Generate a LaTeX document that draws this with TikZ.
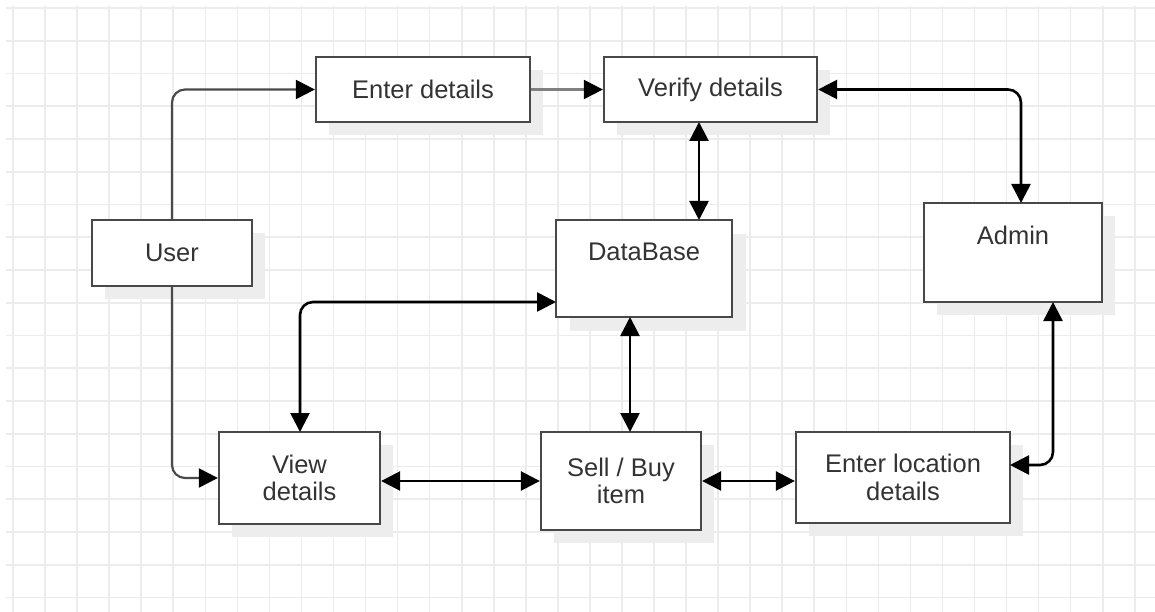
\documentclass[tikz,border=0pt]{standalone}
\usepackage{fontspec}
\setmainfont{Liberation Sans}
\usetikzlibrary{arrows.meta}
\definecolor{gridcol}{HTML}{ECECEC}
\definecolor{shadowcol}{HTML}{EDEDED}
\definecolor{boxline}{HTML}{484848}
\definecolor{textcol}{HTML}{333333}
\definecolor{thinline}{HTML}{4A4A4A}
\definecolor{paleline}{HTML}{808080}
\tikzset{
  gridline/.style={draw=gridcol, line width=1.6pt},
  box/.style={draw=boxline, fill=white, line width=2.3pt, rectangle,
    inner sep=0pt, text=textcol, align=center,
    font=\fontsize{25.5}{27.5}\selectfont},
  boxshadow/.style={fill=shadowcol, draw=none},
  txt/.style={text=textcol, inner sep=0pt,
    font=\fontsize{25.5}{27.5}\selectfont},
  flow/.style={draw=thinline, line width=2.2pt,
    arrows={-{Triangle[length=19pt, width=19pt, color=black]}}},
  paleflow/.style={draw=paleline, line width=2.2pt,
    arrows={-{Triangle[length=19pt, width=19pt, color=black]}}},
  link/.style={draw=black, line width=2.6pt,
    {Triangle[length=19pt, width=19pt]}-{Triangle[length=19pt, width=19pt]}},
}
\newcommand{\boxat}[7]{%
  % #1 name, #2 left, #3 top, #4 right, #5 bottom, #6 text, #7 shadow offset
  \fill[boxshadow] ({#2+#7},{#3+#7}) rectangle ({#4+#7},{#5+#7});
  \node[box, minimum width={(#4-#2)*1pt}, minimum height={(#5-#3)*1pt}]
    (#1) at ({(#2+#4)/2},{(#3+#5)/2}) {#6};
}
\begin{document}
\begin{tikzpicture}[x=1pt, y=-1pt]
\useasboundingbox (0,0) rectangle (1155,612);
\fill[white] (0,0) rectangle (1155,612);

% background grid
\foreach \i in {0,...,35}
  \draw[gridline] ({13+32.05*\i},6) -- ({13+32.05*\i},612);
\foreach \j in {0,...,18}
  \draw[gridline] (6,{8+32.75*\j}) -- (1155,{8+32.75*\j});

% boxes
\boxat{enter}{316}{57}{530}{122}{Enter details}{13}
\boxat{verify}{604}{57}{817}{122}{Verify details}{13}
\boxat{user}{92}{220}{252}{286}{User}{13}
\boxat{db}{556}{220}{732}{317}{}{14}
\boxat{admin}{924}{203}{1102}{302}{}{13}
\boxat{view}{219}{432}{380}{524}{View\\details}{13}
\boxat{sell}{541}{432}{701}{530}{Sell / Buy\\item}{13}
\boxat{loc}{796}{432}{1010}{523}{Enter location\\details}{13}

\node[txt] (dbtext) at (644,252) {DataBase};
\node[txt] (admintext) at (1013,235) {Admin};

% connector anchors
\coordinate (userup) at (user.north);
\coordinate (userdown) at (user.south);
\coordinate (vdb) at (699,122);
\coordinate (vdbend) at (699,220);
\coordinate (dbsell) at (630,317);
\coordinate (dbsellend) at (630,432);
\coordinate (dbleft) at (556,302);
\coordinate (viewtop) at (300,432);
\coordinate (admintop) at (1021,203);
\coordinate (adminbot) at (1053,302);
\coordinate (locright) at (1010,465);

% connectors
\draw[flow, rounded corners=13pt] (userup) |- (enter.west);
\draw[flow, rounded corners=13pt] (userdown) |- (view.west);
\draw[paleflow] (enter.east) -- (verify.west);
\draw[link, rounded corners=13pt] (verify.east) -| (admintop);
\draw[link] (vdb) -- (vdbend);
\draw[link, rounded corners=13pt] (dbleft) -| (viewtop);
\draw[link] (dbsell) -- (dbsellend);
\draw[link] (sell.west -| view.east) -- (sell.west);
\draw[link] (sell.east) -- (sell.east -| loc.west);
\draw[link, rounded corners=13pt] (adminbot) |- (locright);
\end{tikzpicture}
\end{document}
